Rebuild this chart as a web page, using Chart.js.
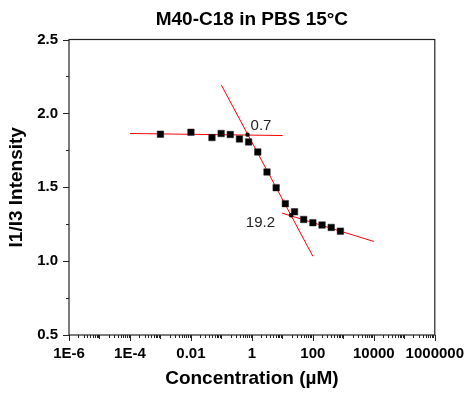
<!DOCTYPE html>
<html><head><meta charset="utf-8">
<script src="https://cdn.jsdelivr.net/npm/chart.js@4/dist/chart.umd.min.js"></script>
<style>html,body{margin:0;padding:0;background:#fff}#wrap{width:474px;height:395px;position:relative}</style>
</head><body><div id="wrap"><canvas id="c"></canvas></div>
<script>
// ---- data ----
const concentrations = [0.001, 0.01, 0.049, 0.098, 0.195, 0.39, 0.78, 1.56, 3.13, 6.25, 12.5, 25, 50, 100, 200, 400, 800];
const i1i3 = [1.859, 1.872, 1.836, 1.864, 1.857, 1.827, 1.807, 1.739, 1.603, 1.497, 1.389, 1.334, 1.282, 1.260, 1.244, 1.228, 1.203];
const fitPlateauX = [1e-4, 10.2];
const fitPlateauY = [1.864, 1.850];
const fitDropX = [0.1, 100];
const fitDropY = [2.191, 1.033];
const fitTailX = [9.8, 10000];
const fitTailY = [1.325, 1.133];
const breakX = [0.72, 19.2];
const breakY = [1.856, 1.310];
const breakLabels = ['0.7', '19.2'];
const xTickValues = [1e-6, 1e-4, 1e-2, 1, 100, 1e4, 1e6];
const xTickLabels = ['1E-6', '1E-4', '0.01', '1', '100', '10000', '1000000'];
const yTickValues = [0.5, 1.0, 1.5, 2.0, 2.5];
const yTickLabels = ['0.5', '1.0', '1.5', '2.0', '2.5'];
const chartTitle = 'M40-C18 in PBS 15°C';

const pts = (xs, ys) => xs.map((x, i) => ({x: x, y: ys[i]}));
const FONT = "'Liberation Sans', Arial, sans-serif";

const framePlugin = {
  id: 'frame',
  afterDatasetsDraw(chart) {
    const {ctx, chartArea: a, scales: {x, y}} = chart;
    ctx.save();
    ctx.strokeStyle = '#222';
    ctx.lineWidth = 1.2;
    ctx.strokeRect(a.left, a.top, a.right - a.left, a.bottom - a.top);
    ctx.lineWidth = 1;
    ctx.beginPath();
    for (let e = -6; e <= 6; e++) {
      for (let m = 1; m <= 9; m++) {
        if (e === 6 && m > 1) break;
        const v = m * Math.pow(10, e);
        const px = Math.round(x.getPixelForValue(v)) + 0.5;
        let len = 3;
        if (m === 1) len = (e % 2 === 0) ? 6 : 4;
        ctx.moveTo(px, a.bottom);
        ctx.lineTo(px, a.bottom + len);
      }
    }
    for (let k = 0; k <= 8; k++) {
      const v = 0.5 + k * 0.25;
      const py = Math.round(y.getPixelForValue(v)) + 0.5;
      const len = (k % 2 === 0) ? 6 : 3;
      ctx.moveTo(a.left, py);
      ctx.lineTo(a.left - len, py);
    }
    ctx.stroke();
    // title centred over the plot area
    ctx.fillStyle = '#000';
    ctx.font = "bold 19px " + FONT;
    ctx.textAlign = 'center';
    ctx.textBaseline = 'middle';
    ctx.fillText(chartTitle, (a.left + a.right) / 2, 19.5);
    // break-point labels
    ctx.fillStyle = '#222';
    ctx.font = "15px " + FONT;
    const p0x = x.getPixelForValue(breakX[0]), p0y = y.getPixelForValue(breakY[0]);
    ctx.textAlign = 'left';
    ctx.fillText(breakLabels[0], p0x + 3, p0y - 9);
    const p1x = x.getPixelForValue(breakX[1]), p1y = y.getPixelForValue(breakY[1]);
    ctx.textAlign = 'right';
    ctx.fillText(breakLabels[1], p1x - 16, p1y + 8);
    ctx.restore();
  }
};

new Chart(document.getElementById('c'), {
  type: 'scatter',
  data: {
    datasets: [
      {data: pts(concentrations, i1i3), pointStyle: 'rect', pointRadius: 4.6, backgroundColor: '#000', borderColor: '#222', borderWidth: 0.5, order: 1},
      {type: 'line', data: pts(fitPlateauX, fitPlateauY), borderColor: '#ff0000', borderWidth: 1, pointRadius: 0, fill: false, order: 2},
      {type: 'line', data: pts(fitDropX, fitDropY), borderColor: '#ff0000', borderWidth: 1, pointRadius: 0, fill: false, order: 2},
      {type: 'line', data: pts(fitTailX, fitTailY), borderColor: '#ff0000', borderWidth: 1, pointRadius: 0, fill: false, order: 2},
      {data: pts(breakX, breakY), pointStyle: 'circle', pointRadius: 2.2, backgroundColor: '#000', borderWidth: 0, order: 0}
    ]
  },
  options: {
    responsive: true,
    maintainAspectRatio: false,
    animation: false,
    events: [],
    layout: {padding: {left: 0, right: 37, top: 39.5, bottom: 0}},
    plugins: {
      legend: {display: false},
      tooltip: {enabled: false},
      title: {display: false}
    },
    scales: {
      x: {
        type: 'logarithmic',
        min: 1e-6,
        max: 1e6,
        grid: {display: false, drawTicks: false},
        border: {display: false},
        afterBuildTicks(s) { s.ticks = xTickValues.map(v => ({value: v})); },
        afterFit(s) { s.height = 60; },
        ticks: {
          autoSkip: false,
          maxRotation: 0,
          padding: 10,
          color: '#000',
          font: {family: FONT, size: 15, weight: 'bold'},
          callback: (v) => { const i = xTickValues.findIndex(t => Math.abs(Math.log10(t) - Math.log10(v)) < 1e-6); return i >= 0 ? xTickLabels[i] : ''; }
        },
        title: {
          display: true,
          text: 'Concentration (µM)',
          color: '#000',
          font: {family: FONT, size: 19, weight: 'bold'},
          padding: {top: 0, bottom: 4.6}
        }
      },
      y: {
        min: 0.5,
        max: 2.5,
        grid: {display: false, drawTicks: false},
        border: {display: false},
        afterBuildTicks(s) { s.ticks = yTickValues.map(v => ({value: v})); },
        afterFit(s) { s.width = 69; },
        ticks: {
          padding: 11,
          color: '#000',
          font: {family: FONT, size: 15, weight: 'bold'},
          callback: (v) => { const i = yTickValues.findIndex(t => Math.abs(t - v) < 1e-6); return i >= 0 ? yTickLabels[i] : ''; }
        },
        title: {
          display: true,
          text: 'I1/I3 Intensity',
          color: '#000',
          font: {family: FONT, size: 19, weight: 'bold'},
          padding: {top: 5.6, bottom: 0}
        }
      }
    }
  },
  plugins: [framePlugin]
});
</script>
</body></html>
